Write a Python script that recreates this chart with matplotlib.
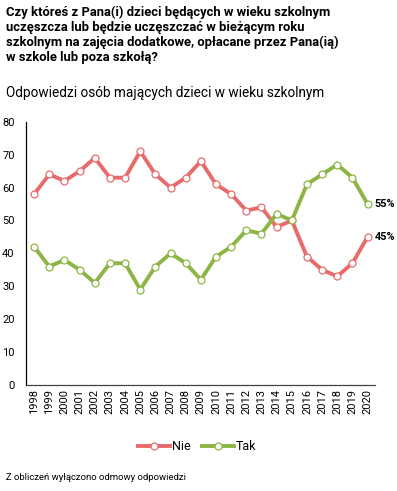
import matplotlib.pyplot as plt
import numpy as np

# Data
years = list(range(1998, 2021))
nie = [58, 64, 62, 65, 69, 63, 63, 71, 64, 60, 63, 68, 61, 58, 53, 54, 48, 50, 39, 35, 33, 37, 45]
tak = [42, 36, 38, 35, 31, 37, 37, 29, 36, 40, 37, 32, 39, 42, 47, 46, 52, 50, 61, 64, 67, 63, 55]

title = ("Czy któreś z Pana(i) dzieci będących w wieku szkolnym\n"
         "uczęszcza lub będzie uczęszczać w bieżącym roku\n"
         "szkolnym na zajęcia dodatkowe, opłacane przez Pana(ią)\n"
         "w szkole lub poza szkołą?")
subtitle = "Odpowiedzi osób mających dzieci w wieku szkolnym"
note = "Z obliczeń wyłączono odmowy odpowiedzi"

red = "#e86b6b"
green = "#8cb545"

plt.rcParams['font.family'] = ['Roboto', 'DejaVu Sans']

fig = plt.figure(figsize=(3.97, 4.91), dpi=100)
ax = fig.add_axes([0.065, 0.216, 0.88, 0.536])

x = np.array(years)
ax.plot(x, nie, color=red, lw=2.8, marker="o", ms=5, mfc="white", mec=red, mew=0.9, label="Nie")
ax.plot(x, tak, color=green, lw=2.8, marker="o", ms=5, mfc="white", mec=green, mew=0.9, label="Tak")

ax.text(x[-1] + 0.45, tak[-1], f"{tak[-1]}%", fontsize=7.8, fontweight="bold", va="center", ha="left")
ax.text(x[-1] + 0.45, nie[-1], f"{nie[-1]}%", fontsize=7.8, fontweight="bold", va="center", ha="left")

ax.set_xlim(1997.45, 2020.5)
ax.set_ylim(0, 80)
ax.set_yticks(range(0, 81, 10))
ax.set_xticks(x)
ax.set_xticklabels([str(y) for y in years], rotation=90, fontsize=8)
ax.tick_params(axis="y", labelsize=8, length=0, pad=8)
ax.tick_params(axis="x", length=0, pad=3)
for s in ["top", "right"]:
    ax.spines[s].set_visible(False)
ax.spines["left"].set_linewidth(0.9)
ax.spines["bottom"].set_linewidth(0.9)
ax.spines["bottom"].set_color("#444444")

ax.legend(loc="center", bbox_to_anchor=(0.49, -0.235), ncol=2, frameon=False, fontsize=9,
          handlelength=2.6, columnspacing=0.9, handletextpad=0.1)

fig.text(0.015, 0.988, title, fontsize=9.4, fontweight="bold", va="top", ha="left", linespacing=1.2)
fig.text(0.015, 0.81, subtitle, fontsize=9.8, va="center", ha="left")
fig.text(0.015, 0.028, note, fontsize=6.8, va="center", ha="left")

fig.savefig("out.png", dpi=100)
